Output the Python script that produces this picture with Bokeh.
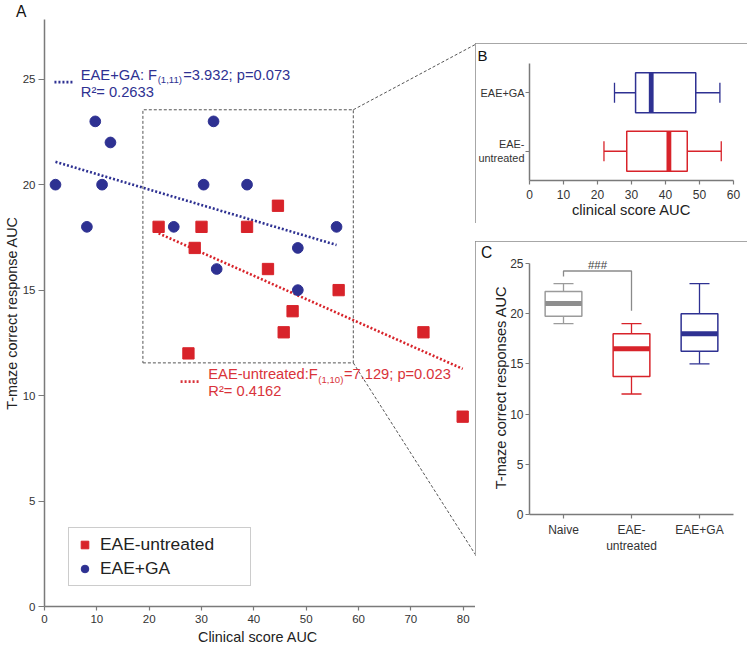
import numpy as np
from bokeh.plotting import figure
from bokeh.models import (ColumnDataSource, Range1d, FactorRange, FixedTicker, Label,
                          Legend, LegendItem, Spacer, Title)
from bokeh.layouts import row, column
from bokeh.embed import file_html
from bokeh.resources import INLINE

FONT = "Liberation Sans"
BLUE = "#2e3192"
RED = "#d8232a"
RED_TXT = "#d9333a"
GRAY = "#9b9b9b"
AXIS = "#7a7a7a"
TICKTXT = "#333333"

# ---------------- Panel A data ----------------
ga_score = [2.1, 9.7, 12.6, 11.0, 8.1, 24.7, 30.4, 32.3, 32.9, 38.7, 48.4, 48.4, 55.8]
ga_tmaze = [20, 23, 22, 20, 18, 18, 20, 23, 16, 20, 17, 15, 18]
un_score = [21.8, 30.0, 38.7, 44.6, 28.7, 42.7, 56.2, 47.4, 45.7, 27.5, 72.4, 79.9]
un_tmaze = [18, 18, 18, 19, 17, 16, 15, 14, 13, 12, 13, 9]
a_xticks = [0, 10, 20, 30, 40, 50, 60, 70, 80]
a_yticks = [0, 5, 10, 15, 20, 25]
ga_text = ["EAE+GA: F", "(1,11)", "=3.932; p=0.073"]
ga_r2 = "R²= 0.2633"
un_text = ["EAE-untreated:F", "(1,10)", "=7.129; p=0.023"]
un_r2 = "R²= 0.4162"
zoom_x = [18.8, 59.0]
zoom_y = [11.55, 23.55]

# ---------------- Panel B data ----------------
b_groups = ["EAE-\nuntreated", "EAE+GA"]
b_wlo = [21.9, 25.0]
b_q1 = [28.6, 31.2]
b_med = [41.0, 35.8]
b_q3 = [46.4, 48.9]
b_whi = [56.4, 56.0]
b_colors = [RED, BLUE]
b_xticks = [0, 10, 20, 30, 40, 50, 60]

# ---------------- Panel C data ----------------
c_groups = ["Naive", "EAE-\nuntreated", "EAE+GA"]
c_wlo = [19, 12, 15]
c_q1 = [19.75, 13.75, 16.25]
c_med = [21, 16.5, 18]
c_q3 = [22.2, 18, 20]
c_whi = [23, 19, 23]
c_colors = [GRAY, RED, BLUE]
c_med_colors = ["#8e8e8e", RED, BLUE]
c_yticks = [0, 5, 10, 15, 20, 25]
sig_x = ["Naive", "Naive", "EAE-\nuntreated", "EAE-\nuntreated"]
sig_y = [23.7, 24.25, 24.25, 20.3]
sig_text = "###"

# ---------------- layout constants ----------------
W, H = 747, 647
WA = 475
WR = W - WA
B_TOP, HB, GAP, HC = 43, 180, 18, 315
A_TOP, A_BOT = 18, 39
A_FRAME_BOTTOM = H - A_BOT
PX_X, PX_Y = 5.2825, 21.2
AX_END = (WA - 40) / PX_X
AY_END = (A_FRAME_BOTTOM - A_TOP) / PX_Y
C_TOP_B, C_BOT_B = 18, 39
C_PX_Y = 10.2
C_Y_END = (HC - C_TOP_B - C_BOT_B) / C_PX_Y
BOX_STYLE = {"outline": "2px solid #8a8a8a", "outline-offset": "-2px"}

ARIAL = {' ': 278, '(': 333, ')': 333, '+': 584, ',': 278, '-': 333, '.': 278, ':': 278,
         ';': 278, '=': 584, 'A': 667, 'C': 722, 'E': 667, 'F': 611, 'G': 778, 'R': 722,
         'U': 722, 'a': 556, 'd': 556, 'e': 556, 'n': 556, 'p': 556, 'r': 333, 't': 278,
         'u': 556, '²': 333}


def text_w(s, size):
    return sum(ARIAL.get(c, 556) for c in s) / 1000.0 * size


def style_axis(ax, tick_out, label_size, title_size, label_standoff, title_standoff):
    ax.axis_line_color = AXIS
    ax.axis_line_width = 1.5
    ax.major_tick_line_color = AXIS
    ax.major_tick_line_width = 1.2
    ax.major_tick_out = tick_out
    ax.major_tick_in = 0
    ax.minor_tick_line_color = None
    ax.major_label_text_font = FONT
    ax.major_label_text_font_size = f"{label_size}px"
    ax.major_label_text_color = TICKTXT
    ax.major_label_standoff = int(label_standoff)
    ax.axis_label_text_font = FONT
    ax.axis_label_text_font_size = f"{title_size}px"
    ax.axis_label_text_font_style = "normal"
    ax.axis_label_text_color = "#222222"
    ax.axis_label_standoff = int(title_standoff)


def base(p):
    p.grid.visible = False
    p.outline_line_color = None
    p.background_fill_color = "white"
    p.border_fill_color = "white"


def letter(text, offset, size="15.6px"):
    return Title(text=text, align="left", offset=offset, standoff=0, text_font=FONT,
                 text_font_size=size, text_font_style="normal", text_color="#111111")


# ================= Panel A =================
pa = figure(width=WA, height=H, x_range=Range1d(0, AX_END), y_range=Range1d(0, AY_END),
            min_border_left=40, min_border_right=0, min_border_top=A_TOP, min_border_bottom=A_BOT,
            x_axis_label="Clinical  score AUC", y_axis_label="T-maze correct response AUC",
            title=letter("A", -28.5), toolbar_location=None, output_backend="svg")
base(pa)
pa.xaxis.ticker = FixedTicker(ticks=a_xticks)
pa.yaxis.ticker = FixedTicker(ticks=a_yticks)
style_axis(pa.xaxis[0], 4, 11.5, 14.4, 4, 3)
style_axis(pa.yaxis[0], 6, 11.5, 14.4, 3, 0)

# zoom rectangle and connectors to panels B and C
pa.line([zoom_x[0], zoom_x[1], zoom_x[1], zoom_x[0], zoom_x[0]],
        [zoom_y[0], zoom_y[0], zoom_y[1], zoom_y[1], zoom_y[0]],
        line_color="#555555", line_width=1, line_dash="3 2")
y_btop = (A_FRAME_BOTTOM - B_TOP) / PX_Y
y_cbot = (A_FRAME_BOTTOM - (B_TOP + HB + GAP + HC)) / PX_Y
pa.line([zoom_x[1], AX_END], [zoom_y[1], y_btop], line_color="#555555", line_width=1, line_dash="3 2")
pa.line([zoom_x[1], AX_END], [zoom_y[0], y_cbot], line_color="#555555", line_width=1, line_dash="3 2")

# regression lines
for xs, ys, col in [(ga_score, ga_tmaze, BLUE), (un_score, un_tmaze, RED)]:
    k, b = np.polyfit(xs, ys, 1)
    fx = np.array([min(xs), max(xs)])
    pa.line(fx, k * fx + b, line_color=col, line_width=2.6, line_dash="2 2")

r_un = pa.scatter(un_score, un_tmaze, marker="square", size=11.3, fill_color=RED, line_color=RED)
r_ga = pa.scatter(ga_score, ga_tmaze, marker="circle", size=10.7, fill_color=BLUE, line_color=BLUE)

# annotation texts
MAIN, SUB = 14.7, 9.6


def fit_label(x0, y0, parts, r2, col, key_x, key_y):
    w1 = text_w(parts[0], MAIN)
    w2 = text_w(parts[1], SUB)
    pa.add_layout(Label(x=x0, y=y0, text=parts[0], text_font=FONT, text_font_size=f"{MAIN}px",
                        text_color=col, text_baseline="middle"))
    pa.add_layout(Label(x=x0, y=y0 - 0.236, x_offset=w1 + 0.5, text=parts[1], text_font=FONT,
                        text_font_size=f"{SUB}px", text_color=col, text_baseline="middle"))
    pa.add_layout(Label(x=x0, y=y0, x_offset=w1 + w2 + 1, text=parts[2], text_font=FONT,
                        text_font_size=f"{MAIN}px", text_color=col, text_baseline="middle"))
    pa.add_layout(Label(x=x0, y=y0 - 0.8, text=r2, text_font=FONT, text_font_size=f"{MAIN}px",
                        text_color=col, text_baseline="middle"))
    pa.line(key_x, key_y, line_color=col, line_width=2.6, line_dash="2 2")


fit_label(6.93, 25.2, ga_text, ga_r2, BLUE, [1.9, 5.7], [24.86, 24.86])
fit_label(31.3, 11.0, un_text, un_r2, RED_TXT, [26.0, 29.8], [10.66, 10.66])

legend = Legend(items=[LegendItem(label="EAE-untreated", renderers=[r_un]),
                       LegendItem(label="EAE+GA", renderers=[r_ga])],
                location=(24, 20), margin=0, padding=6, spacing=3,
                glyph_width=19, glyph_height=19, label_standoff=6,
                label_height=20, label_width=144,
                label_text_font=FONT, label_text_font_size="17.4px", label_text_color="#222222",
                border_line_color="#9a9a9a", border_line_width=1.2,
                background_fill_color="white", background_fill_alpha=1)
pa.add_layout(legend)

# ================= Panel B =================
pb = figure(width=WR, height=HB, x_range=Range1d(0, 60), y_range=FactorRange(factors=b_groups),
            min_border_left=51, min_border_right=14, min_border_top=20, min_border_bottom=43,
            x_axis_label="clinical score AUC", title=letter("B", -52, "15px"),
            toolbar_location=None, output_backend="svg", styles=BOX_STYLE)
base(pb)
pb.xaxis.ticker = FixedTicker(ticks=b_xticks)
style_axis(pb.xaxis[0], 4, 12, 14.7, 5, 0)
style_axis(pb.yaxis[0], 4, 10.9, 12, 1, 0)
pb.yaxis.major_label_text_align = "center"
src_b = ColumnDataSource(dict(g=b_groups, lo=b_wlo, q1=b_q1, med=b_med, q3=b_q3, hi=b_whi, c=b_colors))
pb.segment(x0="lo", y0="g", x1="q1", y1="g", line_color="c", line_width=1.3, source=src_b)
pb.segment(x0="q3", y0="g", x1="hi", y1="g", line_color="c", line_width=1.3, source=src_b)
pb.hbar(y="g", left="q1", right="q3", height=0.68, fill_color="white", line_color="c",
        line_width=1.5, source=src_b)
pb.rect(x="med", y="g", width=4.8, width_units="screen", height=0.68, fill_color="c",
        line_color=None, source=src_b)
pb.scatter(x="lo", y="g", marker="dash", angle=np.pi / 2, size=20, line_color="c",
           line_width=1.3, source=src_b)
pb.scatter(x="hi", y="g", marker="dash", angle=np.pi / 2, size=20, line_color="c",
           line_width=1.3, source=src_b)

# ================= Panel C =================
pc = figure(width=WR, height=HC, x_range=FactorRange(factors=c_groups), y_range=Range1d(0, C_Y_END),
            min_border_left=48, min_border_right=8, min_border_top=C_TOP_B, min_border_bottom=C_BOT_B,
            y_axis_label="T-maze correct responses AUC", title=letter("C", -48.6),
            toolbar_location=None, output_backend="svg", styles=BOX_STYLE)
base(pc)
pc.yaxis.ticker = FixedTicker(ticks=c_yticks)
pc.yaxis.bounds = (0, 25)
style_axis(pc.xaxis[0], 4, 12, 12, 4, 0)
style_axis(pc.yaxis[0], 4, 12, 14.6, 2, -2)
src_c = ColumnDataSource(dict(g=c_groups, lo=c_wlo, q1=c_q1, med=c_med, q3=c_q3, hi=c_whi,
                              c=c_colors, mc=c_med_colors))
pc.segment(x0="g", y0="lo", x1="g", y1="q1", line_color="c", line_width=1.3, source=src_c)
pc.segment(x0="g", y0="q3", x1="g", y1="hi", line_color="c", line_width=1.3, source=src_c)
pc.vbar(x="g", bottom="q1", top="q3", width=0.54, fill_color="white", line_color="c",
        line_width=1.5, source=src_c)
pc.rect(x="g", y="med", width=0.54, height=5, height_units="screen", fill_color="mc",
        line_color=None, source=src_c)
pc.scatter(x="g", y="lo", marker="dash", size=20, line_color="c", line_width=1.3, source=src_c)
pc.scatter(x="g", y="hi", marker="dash", size=20, line_color="c", line_width=1.3, source=src_c)
pc.line(sig_x, sig_y, line_color="#8a8a8a", line_width=1.3)
pc.add_layout(Label(x=1.0, y=24.85, text=sig_text, text_font=FONT, text_font_size="11.5px",
                    text_color="#444444", text_baseline="middle", text_align="center"))

layout = row(pa, column(Spacer(width=WR, height=B_TOP), pb, Spacer(width=WR, height=GAP), pc))

open("out.html", "w").write(file_html(layout, INLINE))
